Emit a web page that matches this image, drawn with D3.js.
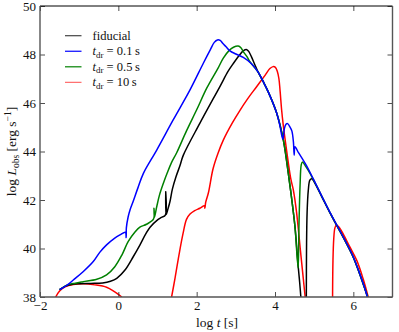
<!DOCTYPE html>
<html>
<head>
<meta charset="utf-8">
<script src="https://cdn.jsdelivr.net/npm/d3@7"></script>
<style>
	body { margin: 0; background: #fff; }
	svg text { font-family: 'Liberation Serif', 'DejaVu Serif', serif; fill: #111; }
</style>
</head>
<body>
<svg id="chart" width="399" height="332"></svg>
<script>
// tick values
const xTicks = [-2, 0, 2, 4, 6]
const yTicks = [38, 40, 42, 44, 46, 48, 50]

// log t [s], log L_obs -- each series split into segments where the curve breaks
const fiducial = [
	[[-1.5, 38.3], [-1.35, 38.45], [-1.2, 38.52], [-1.0, 38.55], [-0.7, 38.56], [-0.4, 38.58], [-0.2, 38.65], [-0.04, 38.77],
	[0.17, 39.11], [0.38, 39.66], [0.55, 40.14], [0.7, 40.6], [0.81, 40.88], [0.98, 41.15], [1.1, 41.28], [1.2, 41.38],
	[1.21, 42.34], [1.22, 41.4], [1.27, 41.65], [1.32, 41.95], [1.38, 42.45], [1.47, 42.95], [1.57, 43.4], [1.66, 43.85],
	[2.08, 45.16], [2.6, 46.7], [2.8, 47.3], [2.94, 47.64], [3.08, 47.95], [3.19, 48.15], [3.28, 48.2], [3.34, 48.1],
	[3.4, 47.9], [3.48, 47.6], [3.57, 47.27], [3.7, 46.88], [3.83, 46.45], [4.04, 45.6], [4.21, 44.5], [4.34, 43.1],
	[4.43, 42.0], [4.51, 40.9], [4.59, 39.3], [4.63, 38.6], [4.66, 38.0]],
	[[4.8, 38.0], [4.805, 40.0], [4.82, 41.5], [4.85, 42.4], [4.89, 42.82], [4.94, 42.88], [5.0, 42.75], [5.2, 42.12],
	[5.4, 41.48], [5.6, 40.88], [5.8, 40.28], [6.0, 39.63], [6.15, 39.0], [6.28, 38.4], [6.36, 38.0]]
]
const tdr01 = [
	[[-1.5, 38.3], [-1.3, 38.5], [-1.15, 38.7], [-0.9, 39.04], [-0.64, 39.46], [-0.47, 39.85], [-0.3, 40.15], [-0.1, 40.42],
	[0.04, 40.56], [0.18, 40.67], [0.2, 40.45], [0.205, 40.85], [0.25, 41.3], [0.3, 41.6], [0.38, 41.95], [0.5, 42.5],
	[0.64, 43.1], [0.98, 44.06], [1.4, 45.3], [1.83, 46.54], [2.17, 47.64], [2.35, 48.2], [2.45, 48.5], [2.53, 48.6],
	[2.6, 48.58], [2.67, 48.45], [2.75, 48.32], [2.85, 48.15], [3.0, 48.02], [3.19, 47.88], [3.4, 47.62], [3.57, 47.27],
	[3.7, 46.88], [3.83, 46.45], [4.04, 45.6], [4.12, 45.1], [4.2, 44.5], [4.24, 44.95], [4.28, 45.12], [4.32, 45.15],
	[4.38, 45.02], [4.43, 44.85], [4.47, 44.4], [4.49, 43.85], [4.51, 44.2], [4.6, 43.95], [4.7, 43.7], [4.8, 43.43],
	[4.9, 43.12], [5.0, 42.8], [5.2, 42.14], [5.4, 41.5], [5.6, 40.9], [5.8, 40.3], [6.0, 39.65], [6.15, 39.02],
	[6.28, 38.42], [6.36, 38.0]]
]
const tdr05 = [
	[[-1.5, 38.3], [-1.3, 38.5], [-1.1, 38.57], [-0.9, 38.63], [-0.55, 38.73], [-0.3, 38.91], [-0.09, 39.25], [0.09, 39.73],
	[0.25, 40.28], [0.43, 40.69], [0.55, 40.88], [0.72, 41.0], [0.9, 41.22], [0.91, 41.66], [0.92, 41.28], [0.98, 41.72],
	[1.05, 42.2], [1.15, 42.69], [1.25, 43.12], [1.36, 43.55], [1.49, 43.95], [1.74, 44.85], [2.0, 45.72], [2.26, 46.62],
	[2.55, 47.45], [2.68, 47.85], [2.82, 48.15], [2.94, 48.3], [3.06, 48.35], [3.13, 48.28], [3.19, 48.12], [3.28, 47.92],
	[3.36, 47.7], [3.46, 47.5], [3.57, 47.27], [3.7, 46.88], [3.83, 46.45], [4.04, 45.6], [4.21, 44.5], [4.34, 43.1],
	[4.43, 42.0], [4.51, 40.9], [4.59, 39.2], [4.61, 40.8], [4.64, 42.6], [4.67, 43.45], [4.7, 43.57], [4.77, 43.42],
	[4.85, 43.22], [4.92, 43.02], [5.0, 42.78], [5.2, 42.13], [5.4, 41.49], [5.6, 40.89], [5.8, 40.29], [6.0, 39.64],
	[6.15, 39.01], [6.28, 38.41], [6.37, 38.0]]
]
const tdr10 = [
	[[-1.6, 38.0], [-1.5, 38.25], [-1.36, 38.42], [-1.15, 38.52], [-0.9, 38.55], [-0.6, 38.5], [-0.3, 38.4], [-0.1, 38.22],
	[0.09, 38.0]],
	[[1.36, 38.0], [1.45, 38.8], [1.55, 39.75], [1.65, 40.6], [1.74, 41.2], [1.83, 41.42], [1.95, 41.56], [2.08, 41.66],
	[2.2, 41.76], [2.21, 41.66], [2.23, 41.9], [2.3, 42.3], [2.42, 43.3], [2.55, 43.95], [2.68, 44.47], [2.9, 45.15],
	[3.11, 45.71], [3.3, 46.17], [3.53, 46.67], [3.75, 47.15], [3.87, 47.42], [3.95, 47.5], [4.01, 47.47], [4.06, 47.3],
	[4.1, 47.0], [4.13, 46.5], [4.17, 45.7], [4.21, 45.1], [4.3, 44.0], [4.4, 42.9], [4.47, 42.4], [4.55, 41.5],
	[4.65, 39.9], [4.72, 38.8], [4.77, 38.0]],
	[[5.47, 38.0], [5.48, 39.5], [5.5, 40.4], [5.53, 40.85], [5.57, 40.97], [5.65, 40.85], [5.74, 40.6], [5.9, 40.1],
	[6.09, 39.5], [6.25, 38.75], [6.38, 38.0]]
]

const series = [
	{ key: 'fid', segs: fiducial, color: '#000000', legend: '#444444' },
	{ key: '01', segs: tdr01, color: '#0000ff', legend: '#0000ff' },
	{ key: '05', segs: tdr05, color: '#008000', legend: '#008000' },
	{ key: '10', segs: tdr10, color: '#ff0000', legend: '#ff6a6a' }
]

const svg = d3.select('#chart')
const x = d3.scaleLinear().domain([-2, 7]).range([40, 392.5])
const y = d3.scaleLinear().domain([38, 50]).range([297, 6])
const fmt = d => d < 0 ? '\u2212' + Math.abs(d) : String(d)

svg.append('clipPath').attr('id', 'clip')
	.append('rect')
	.attr('x', x(-2)).attr('y', y(50))
	.attr('width', x(7) - x(-2)).attr('height', y(38) - y(50))

const line = d3.line()
	.x(d => x(d[0]))
	.y(d => y(d[1]))
	.curve(d3.curveCatmullRom.alpha(0.5))

// draw order: red first, then black, green, blue on top like the reference
let plot = svg.append('g').attr('clip-path', 'url(#clip)')
;[series[3], series[0], series[2], series[1]].forEach(s => {
	s.segs.forEach(seg => {
		plot.append('path')
			.attr('d', line(seg))
			.attr('fill', 'none')
			.attr('stroke', s.color)
			.attr('stroke-width', 1.5)
			.attr('stroke-linejoin', 'round')
	})
})

// axes, ticks pointing inward
let axB = svg.append('g').attr('transform', `translate(0,${y(38)})`)
	.call(d3.axisBottom(x).tickValues(xTicks).tickSizeInner(-5).tickSizeOuter(0).tickPadding(3.5).tickFormat(fmt))
let axT = svg.append('g').attr('transform', `translate(0,${y(50)})`)
	.call(d3.axisTop(x).tickValues(xTicks).tickSizeInner(-5).tickSizeOuter(0).tickFormat(''))
let axL = svg.append('g').attr('transform', `translate(${x(-2)},0)`)
	.call(d3.axisLeft(y).tickValues(yTicks).tickSizeInner(-5).tickSizeOuter(0).tickPadding(4).tickFormat(fmt))
let axR = svg.append('g').attr('transform', `translate(${x(7)},0)`)
	.call(d3.axisRight(y).tickValues(yTicks).tickSizeInner(-5).tickSizeOuter(0).tickFormat(''))
;[axB, axT, axL, axR].forEach(a => {
	a.select('.domain').remove()
	a.selectAll('.tick line').attr('stroke', '#222').attr('stroke-width', 0.8)
	a.selectAll('text').attr('font-size', 13).attr('font-family', 'Liberation Serif')
})

// frame
const spine = (x1, y1, x2, y2, c, w) => svg.append('line')
	.attr('x1', x1).attr('y1', y1).attr('x2', x2).attr('y2', y2)
	.attr('stroke', c).attr('stroke-width', w)
spine(x(-2), y(50), x(7), y(50), '#000', 1)
spine(x(-2), y(38), x(7), y(38), '#555', 1.4)
spine(x(-2), y(50), x(-2), y(38), '#555', 1.4)
spine(x(7), y(50), x(7), y(38), '#555', 1.4)

// axis titles
let xl = svg.append('text').attr('x', 217).attr('y', 327).attr('text-anchor', 'middle').attr('font-size', 13.5)
xl.append('tspan').text('log ')
xl.append('tspan').attr('font-style', 'italic').text('t')
xl.append('tspan').text(' [s]')

let yl = svg.append('text').attr('transform', `translate(16,${(y(38) + y(50)) / 2}) rotate(-90)`)
	.attr('text-anchor', 'middle').attr('font-size', 13.5)
yl.append('tspan').text('log ')
yl.append('tspan').attr('font-style', 'italic').text('L')
yl.append('tspan').attr('font-size', 9.5).attr('dy', 3).text('obs')
yl.append('tspan').attr('dy', -3).text(' [erg s')
yl.append('tspan').attr('font-size', 9.5).attr('dy', -5).text('\u22121')
yl.append('tspan').attr('dy', 5).text(']')

// legend
const legendRows = [
	{ s: series[0], label: 'fiducial' },
	{ s: series[1], val: '0.1' },
	{ s: series[2], val: '0.5' },
	{ s: series[3], val: '10' }
]
legendRows.forEach((r, i) => {
	let cy = 35.7 + i * 15.55
	svg.append('line')
		.attr('x1', 65).attr('x2', 81.5).attr('y1', cy).attr('y2', cy)
		.attr('stroke', r.s.legend).attr('stroke-width', 1.2)
	let t = svg.append('text').attr('x', 92.5).attr('y', cy + 4).attr('font-size', 12.5)
	if (r.label) {
		t.text(r.label)
	} else {
		t.append('tspan').attr('font-style', 'italic').text('t')
		t.append('tspan').attr('font-size', 9).attr('dy', 2.5).text('dr')
		t.append('tspan').attr('dy', -2.5).text(' = ' + r.val + '\u2009s')
	}
})
</script>
</body>
</html>
